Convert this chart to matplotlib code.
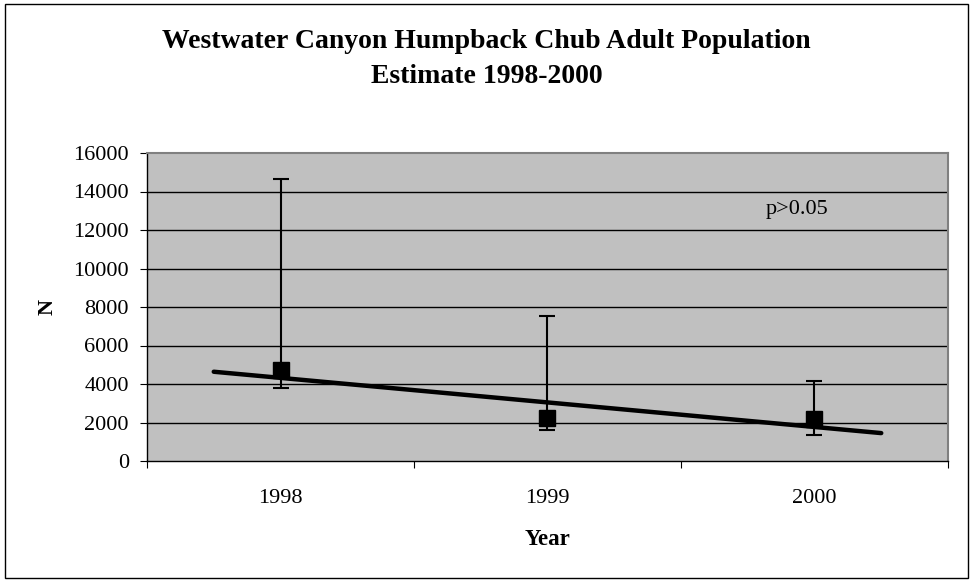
import matplotlib
matplotlib.use("Agg")
import matplotlib.pyplot as plt
from matplotlib.patches import Rectangle
import numpy as np

years = ["1998", "1999", "2000"]
estimates = [4730, 2220, 2180]
upper = [14660, 7550, 4150]
lower = [3780, 1610, 1340]
y_ticks = [0, 2000, 4000, 6000, 8000, 10000, 12000, 14000, 16000]

plt.rcParams['font.family'] = ['Liberation Serif', 'DejaVu Serif']

fig = plt.figure(figsize=(9.73, 5.82), dpi=100)
fig.patches.append(Rectangle((5/973, 4/582), 963/973, 574/582, transform=fig.transFigure,
                             fill=False, edgecolor='black', linewidth=1.0))

ax = fig.add_axes([147/973, 1 - 461/582, 801/973, 308/582])
ax.set_facecolor('#C0C0C0')

x = np.arange(1, len(years) + 1)
est = np.array(estimates)
yerr = np.array([est - np.array(lower), np.array(upper) - est])

for yt in y_ticks[1:-1]:
    ax.axhline(yt, color='black', linewidth=1.0, zorder=1)

ax.errorbar(x, est, yerr=yerr, fmt='s', color='black', markersize=11,
            ecolor='black', elinewidth=1.5, capsize=6, capthick=1.5, zorder=3)

coef = np.polyfit(x, est, 1)
xt = np.array([x[0] - 0.25, x[-1] + 0.25])
ax.plot(xt, np.polyval(coef, xt), color='black', linewidth=3.2,
        solid_capstyle='round', zorder=4)

ax.set_xlim(0.5, 3.5)
ax.set_ylim(0, 16000)
ax.set_yticks(y_ticks)
ax.set_yticklabels([str(v) for v in y_ticks], fontsize=16)
ax.set_xticks([0.5, 1.5, 2.5, 3.5])
ax.set_xticklabels([])
ax.set_xticks(x, minor=True)
ax.set_xticklabels(years, minor=True, fontsize=16)
ax.tick_params(axis='x', which='minor', length=0, pad=20)
ax.tick_params(axis='x', which='major', length=5, direction='out', color='black')
ax.tick_params(axis='y', length=5, direction='out', pad=8)

for side in ['top', 'right']:
    ax.spines[side].set_color('#808080')
    ax.spines[side].set_linewidth(1.5)
for side in ['left', 'bottom']:
    ax.spines[side].set_color('black')
    ax.spines[side].set_linewidth(1.0)

ax.set_xlabel('Year', fontsize=16.5, fontweight='bold', labelpad=15)
ax.set_ylabel('N', fontsize=16, fontweight='bold', labelpad=11)

ax.text(0.812, 0.817, 'p>0.05', transform=ax.transAxes, fontsize=16, ha='center', va='center')

fig.text(0.5, 1 - 59/582, 'Westwater Canyon Humpback Chub Adult Population\nEstimate 1998-2000',
         ha='center', va='center', fontsize=20, fontweight='bold', linespacing=1.5)

fig.savefig('out.png', dpi=100)
